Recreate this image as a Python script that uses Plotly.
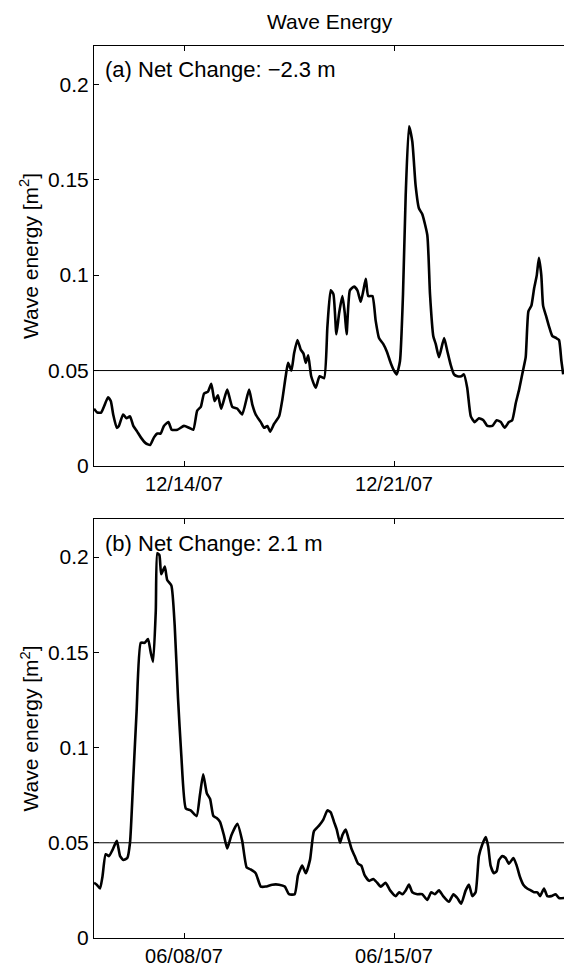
import pandas as pd
import plotly.graph_objects as go

FONT = "Liberation Sans, Arial, Helvetica, sans-serif"
INK = "black"
THRESHOLD = 0.05  # reference level drawn in both panels

# (a) December 2007 record: days after 12/11/07 00:00 and wave energy [m^2]
DEC_START = "2007-12-11"
DEC_END = "2007-12-26 16:00"
DEC_DAYS = [
    0.00, 0.11, 0.24, 0.33, 0.47, 0.56, 0.64, 0.76, 0.83, 0.97,
    1.08, 1.20, 1.31, 1.44, 1.56, 1.72, 1.87, 2.00, 2.11, 2.22,
    2.33, 2.48, 2.59, 2.78, 3.00, 3.17, 3.31, 3.44, 3.56, 3.67,
    3.80, 3.91, 4.02, 4.13, 4.24, 4.44, 4.61, 4.78, 4.94, 5.17,
    5.28, 5.39, 5.56, 5.67, 5.78, 5.87, 6.00, 6.17, 6.28, 6.39,
    6.47, 6.58, 6.67, 6.78, 6.89, 6.98, 7.06, 7.14, 7.24, 7.39,
    7.52, 7.67, 7.78, 7.89, 7.98, 8.08, 8.17, 8.28, 8.36, 8.42,
    8.53, 8.67, 8.78, 8.89, 8.98, 9.06, 9.14, 9.28, 9.39, 9.50,
    9.64, 9.76, 9.89, 10.00, 10.09, 10.20, 10.30, 10.39, 10.50, 10.61,
    10.72, 10.83, 10.94, 11.11, 11.20, 11.31, 11.39, 11.50, 11.67, 11.78,
    11.89, 12.00, 12.11, 12.24, 12.33, 12.44, 12.56, 12.69, 12.83, 12.98,
    13.11, 13.28, 13.42, 13.56, 13.69, 13.83, 13.94, 14.06, 14.17, 14.30,
    14.39, 14.48, 14.58, 14.67, 14.76, 14.83, 14.91, 14.97, 15.08, 15.17,
    15.28, 15.41, 15.50, 15.58, 15.64,
]
DEC_WAVE = [
    0.030, 0.028, 0.028, 0.031, 0.036, 0.034, 0.027, 0.020, 0.021, 0.027,
    0.025, 0.026, 0.021, 0.018, 0.015, 0.012, 0.011, 0.015, 0.017, 0.017,
    0.021, 0.023, 0.019, 0.019, 0.021, 0.020, 0.019, 0.029, 0.031, 0.038,
    0.039, 0.043, 0.034, 0.037, 0.030, 0.040, 0.031, 0.030, 0.027, 0.040,
    0.032, 0.027, 0.023, 0.020, 0.021, 0.018, 0.022, 0.026, 0.035, 0.047,
    0.054, 0.050, 0.059, 0.066, 0.061, 0.059, 0.054, 0.058, 0.047, 0.041,
    0.047, 0.046, 0.073, 0.092, 0.090, 0.069, 0.080, 0.089, 0.080, 0.069,
    0.092, 0.094, 0.092, 0.086, 0.092, 0.098, 0.089, 0.089, 0.076, 0.067,
    0.064, 0.060, 0.054, 0.050, 0.048, 0.055, 0.090, 0.142, 0.178, 0.170,
    0.147, 0.135, 0.132, 0.121, 0.090, 0.068, 0.064, 0.057, 0.067, 0.060,
    0.053, 0.048, 0.047, 0.047, 0.048, 0.041, 0.026, 0.023, 0.025, 0.024,
    0.021, 0.021, 0.024, 0.023, 0.020, 0.023, 0.024, 0.033, 0.040, 0.050,
    0.057, 0.081, 0.084, 0.093, 0.100, 0.109, 0.100, 0.084, 0.078, 0.073,
    0.068, 0.067, 0.066, 0.055, 0.048,
]

# (b) June 2007 record: days after 06/05/07 00:00 and wave energy [m^2]
JUN_START = "2007-06-05"
JUN_END = "2007-06-20 16:00"
JUN_DAYS = [
    0.00, 0.09, 0.20, 0.28, 0.39, 0.50, 0.61, 0.76, 0.87, 0.98,
    1.11, 1.20, 1.31, 1.42, 1.56, 1.69, 1.80, 1.89, 1.97, 2.06,
    2.11, 2.18, 2.24, 2.36, 2.44, 2.58, 2.69, 2.80, 2.91, 3.06,
    3.22, 3.42, 3.53, 3.64, 3.76, 3.87, 3.98, 4.09, 4.20, 4.33,
    4.44, 4.58, 4.78, 4.94, 5.09, 5.22, 5.39, 5.56, 5.72, 5.94,
    6.17, 6.36, 6.50, 6.69, 6.80, 6.94, 7.06, 7.20, 7.33, 7.50,
    7.64, 7.78, 7.89, 8.00, 8.09, 8.20, 8.28, 8.39, 8.47, 8.58,
    8.69, 8.80, 8.91, 9.02, 9.17, 9.31, 9.44, 9.56, 9.72, 9.87,
    10.06, 10.17, 10.28, 10.39, 10.50, 10.61, 10.78, 10.94, 11.11, 11.24,
    11.36, 11.50, 11.64, 11.83, 11.98, 12.11, 12.24, 12.39, 12.50, 12.61,
    12.72, 12.83, 12.94, 13.06, 13.14, 13.22, 13.33, 13.42, 13.50, 13.61,
    13.72, 13.83, 13.98, 14.09, 14.20, 14.31, 14.44, 14.56, 14.67, 14.78,
    14.87, 15.00, 15.11, 15.24, 15.39, 15.50, 15.67,
]
JUN_WAVE = [
    0.029, 0.028, 0.026, 0.032, 0.044, 0.043, 0.046, 0.051, 0.043, 0.041,
    0.042, 0.050, 0.084, 0.119, 0.155, 0.155, 0.157, 0.150, 0.145, 0.172,
    0.202, 0.201, 0.191, 0.195, 0.188, 0.185, 0.164, 0.126, 0.096, 0.068,
    0.067, 0.064, 0.075, 0.086, 0.076, 0.073, 0.064, 0.063, 0.061, 0.054,
    0.047, 0.054, 0.060, 0.051, 0.037, 0.036, 0.034, 0.027, 0.027, 0.028,
    0.028, 0.027, 0.023, 0.023, 0.033, 0.038, 0.034, 0.041, 0.056, 0.059,
    0.062, 0.067, 0.066, 0.061, 0.057, 0.050, 0.054, 0.057, 0.053, 0.047,
    0.043, 0.039, 0.038, 0.033, 0.030, 0.031, 0.029, 0.027, 0.029, 0.025,
    0.022, 0.024, 0.023, 0.025, 0.028, 0.024, 0.023, 0.023, 0.020, 0.024,
    0.023, 0.025, 0.022, 0.019, 0.023, 0.021, 0.018, 0.025, 0.028, 0.022,
    0.024, 0.043, 0.049, 0.053, 0.048, 0.038, 0.034, 0.035, 0.041, 0.043,
    0.042, 0.039, 0.042, 0.038, 0.032, 0.028, 0.026, 0.025, 0.024, 0.024,
    0.022, 0.026, 0.022, 0.022, 0.023, 0.021, 0.021,
]

Y_TICKS = [0, 0.05, 0.1, 0.15, 0.2]
Y_TICK_TEXT = ["0", "0.05", "0.1", "0.15", "0.2"]
DEC_TICKS = ["2007-12-14", "2007-12-21"]
DEC_TICK_TEXT = ["12/14/07", "12/21/07"]
JUN_TICKS = ["2007-06-08", "2007-06-15"]
JUN_TICK_TEXT = ["06/08/07", "06/15/07"]
PANEL_LABELS = ["(a) Net Change: \u22122.3 m", "(b) Net Change: 2.1 m"]

W, H = 564, 967
LEFT = 94
# panel pixel extents (top, bottom) measured from the top of the page
PANELS = [(46, 466), (519, 938)]


def to_times(start, days):
    return pd.Timestamp(start) + pd.to_timedelta(days, unit="D")


# paper coords are relative to the plot area (inside the margins)
def paper_x(px):
    return (px - LEFT) / (W - LEFT)


def paper_y(px):
    return 1 - px / H


def x_axis(ticks, text, start, end, anchor):
    return dict(
        type="date",
        range=[start, end],
        domain=[0, 1],
        anchor=anchor,
        tickvals=ticks,
        ticktext=text,
        ticks="inside",
        ticklen=5,
        tickcolor=INK,
        showline=True,
        linecolor=INK,
        linewidth=1,
        mirror="ticks",
        showgrid=False,
        zeroline=False,
        automargin=False,
        tickfont=dict(family=FONT, size=20, color=INK),
    )


def y_axis(top, bottom, anchor):
    return dict(
        range=[0, 0.22],
        domain=[paper_y(bottom), paper_y(top)],
        anchor=anchor,
        tickvals=Y_TICKS,
        ticktext=Y_TICK_TEXT,
        ticks="inside",
        ticklen=5,
        tickcolor=INK,
        showline=True,
        linecolor=INK,
        linewidth=1,
        showgrid=False,
        zeroline=False,
        automargin=False,
        tickfont=dict(family=FONT, size=21, color=INK),
    )


fig = go.Figure()
fig.add_trace(go.Scatter(
    x=to_times(DEC_START, DEC_DAYS), y=DEC_WAVE, mode="lines",
    line=dict(color=INK, width=2.6, shape="spline", smoothing=0.5),
    xaxis="x", yaxis="y", showlegend=False,
))
fig.add_trace(go.Scatter(
    x=to_times(JUN_START, JUN_DAYS), y=JUN_WAVE, mode="lines",
    line=dict(color=INK, width=2.6, shape="spline", smoothing=0.5),
    xaxis="x2", yaxis="y2", showlegend=False,
))

for xref, yref in [("x", "y"), ("x2", "y2")]:
    fig.add_shape(
        type="line", xref=f"{xref} domain", yref=yref,
        x0=0, x1=1, y0=THRESHOLD, y1=THRESHOLD,
        line=dict(color=INK, width=1),
    )

annotations = [
    dict(
        text="Wave Energy", x=paper_x((LEFT + 566) / 2), y=paper_y(21),
        xref="paper", yref="paper", xanchor="center", yanchor="middle",
        showarrow=False, font=dict(family=FONT, size=21, color=INK),
    )
]
for (top, bottom), label in zip(PANELS, PANEL_LABELS):
    annotations.append(dict(
        text=label, x=paper_x(103), y=paper_y(top + 24),
        xref="paper", yref="paper", xanchor="left", yanchor="middle",
        showarrow=False, font=dict(family=FONT, size=22, color=INK),
    ))
    annotations.append(dict(
        text="Wave energy [m<sup>2</sup>]", x=paper_x(29),
        y=paper_y((top + bottom) / 2), textangle=-90,
        xref="paper", yref="paper", xanchor="center", yanchor="middle",
        showarrow=False, font=dict(family=FONT, size=21, color=INK),
    ))

fig.update_layout(
    width=W,
    height=H,
    margin=dict(l=LEFT, r=0, t=0, b=0),
    paper_bgcolor="white",
    plot_bgcolor="white",
    xaxis=x_axis(DEC_TICKS, DEC_TICK_TEXT, DEC_START, DEC_END, "y"),
    yaxis=y_axis(*PANELS[0], "x"),
    xaxis2=x_axis(JUN_TICKS, JUN_TICK_TEXT, JUN_START, JUN_END, "y2"),
    yaxis2=y_axis(*PANELS[1], "x2"),
    annotations=annotations,
    font=dict(family=FONT, color=INK),
)

# drop the page's default body margin so the figure sits at the window corner
fig.write_html(
    "out.html",
    config={"displayModeBar": False},
    post_script="document.body.style.margin='0';document.body.style.overflow='hidden';",
)
